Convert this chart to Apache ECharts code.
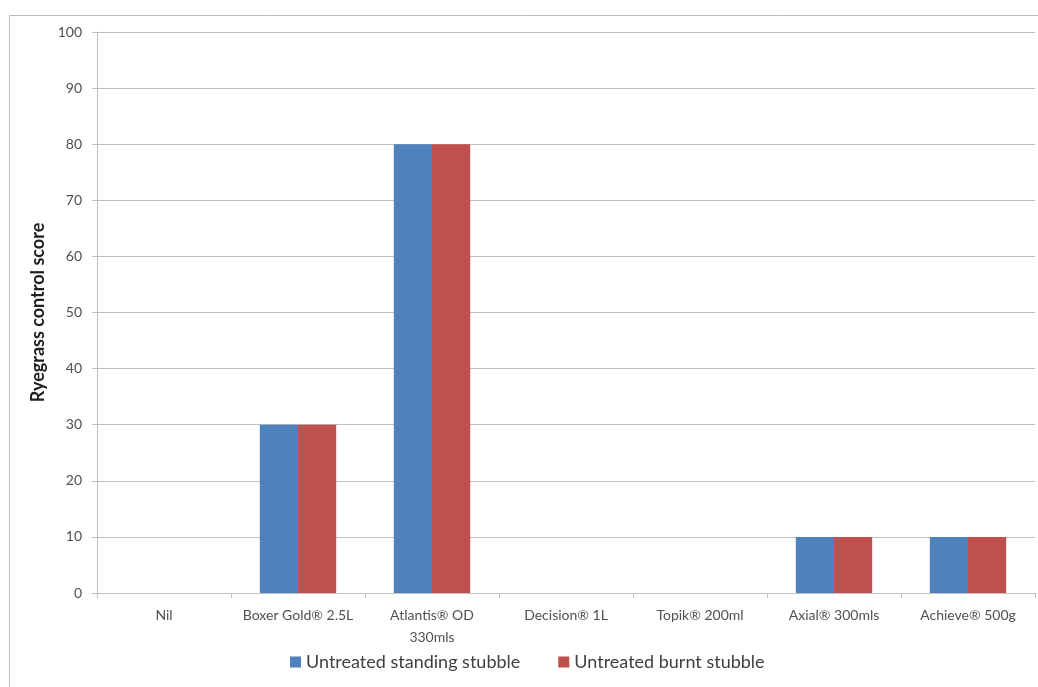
<!DOCTYPE html>
<html><head><meta charset="utf-8">
<script src="https://cdn.jsdelivr.net/npm/echarts@6/dist/echarts.min.js"></script>
<style>html,body{margin:0;padding:0;background:#fff}#c{width:1038px;height:687px}</style>
</head><body><div id="c"></div>
<script>
const categories = ['Nil', 'Boxer Gold® 2.5L', 'Atlantis® OD\n330mls', 'Decision® 1L', 'Topik® 200ml', 'Axial® 300mls', 'Achieve® 500g'];
const standing = [0, 30, 80, 0, 0, 10, 10];
const burnt = [0, 30, 80, 0, 0, 10, 10];
const seriesNames = ['Untreated standing stubble', 'Untreated burnt stubble'];
const yTitle = 'Ryegrass control score';

const font = 'Lato, "Open Sans", sans-serif';
const chart = echarts.init(document.getElementById('c'), null, {renderer: 'canvas'});
chart.setOption({
  animation: false,
  backgroundColor: '#fff',
  textStyle: {fontFamily: font},
  graphic: [{
    type: 'rect', shape: {x: 9.5, y: 15.5, width: 1040, height: 700},
    style: {fill: 'none', stroke: '#bdbdbd', lineWidth: 1}, silent: true
  }],
  grid: {left: 97, right: 3, top: 32, bottom: 94},
  legend: {
    top: 648, left: 285, itemGap: 38, itemWidth: 11, itemHeight: 11,
    icon: 'rect',
    textStyle: {fontSize: 18, color: '#404040', fontFamily: font},
    data: seriesNames
  },
  xAxis: {
    type: 'category', data: categories, boundaryGap: true,
    axisLine: {lineStyle: {color: '#c0c0c0', width: 1}},
    axisTick: {show: true, length: 5, lineStyle: {color: '#c0c0c0'}},
    axisLabel: {fontSize: 14, color: '#505050', margin: 11, interval: 0, lineHeight: 22, fontFamily: font}
  },
  yAxis: {
    type: 'value', min: 0, max: 100, interval: 10,
    name: yTitle, nameLocation: 'middle', nameGap: 46, nameRotate: 90,
    nameTextStyle: {fontSize: 18, fontWeight: 'bold', color: '#202020', fontFamily: font},
    axisLine: {show: true, lineStyle: {color: '#c0c0c0'}},
    axisTick: {show: true, length: 5, lineStyle: {color: '#c0c0c0'}},
    axisLabel: {fontSize: 14, color: '#505050', margin: 15, fontFamily: font},
    splitLine: {lineStyle: {color: '#c0c0c0', width: 1}}
  },
  series: [
    {name: seriesNames[0], type: 'bar', data: standing, barGap: '0%', barCategoryGap: '43%', itemStyle: {color: '#4f81bd'}},
    {name: seriesNames[1], type: 'bar', data: burnt, barGap: '0%', barCategoryGap: '43%', itemStyle: {color: '#c0504d'}}
  ]
});
</script></body></html>
